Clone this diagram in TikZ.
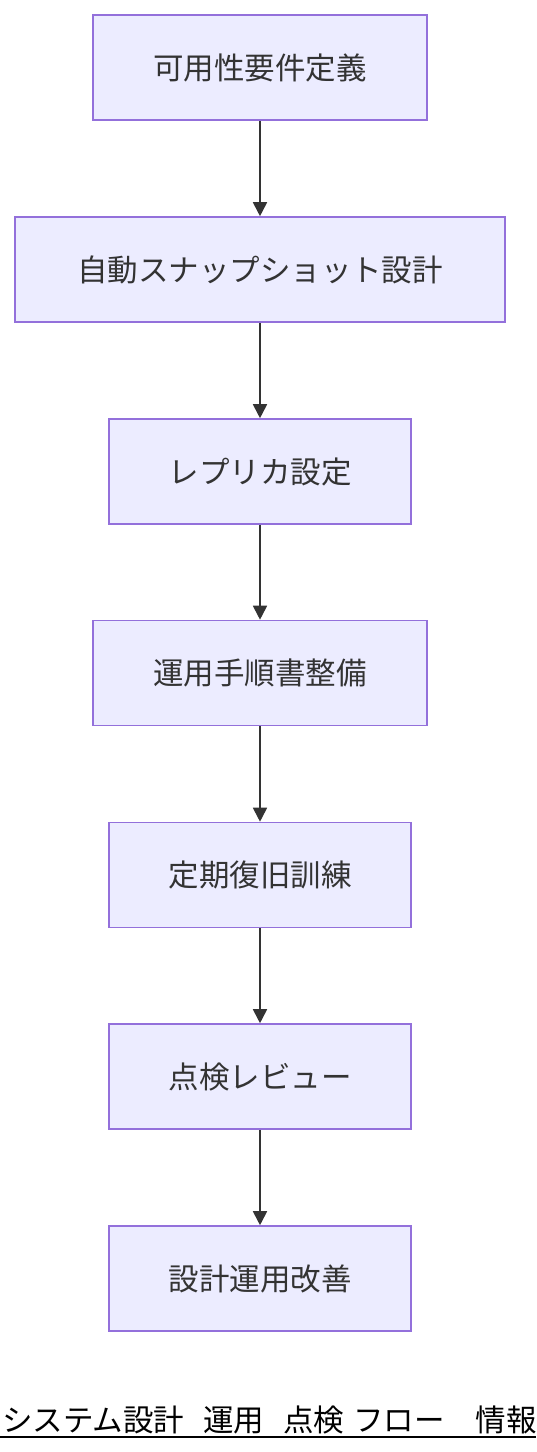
\documentclass[tikz,border=0pt]{standalone}
\usepackage{fontspec}
\setmainfont{Noto Sans CJK JP}
\usetikzlibrary{arrows.meta}
\definecolor{boxfill}{HTML}{ECECFF}
\definecolor{boxline}{HTML}{9370DB}
\definecolor{ink}{HTML}{333333}
\begin{document}
\begin{tikzpicture}[x=1pt,y=-1pt,
  stepbox/.style={draw=boxline,fill=boxfill,line width=1.6pt,inner sep=0pt,
    minimum height=105pt,text=ink,font=\fontsize{30.5}{33}\selectfont},
  flow/.style={draw=ink,line width=1.8pt,-{Triangle[length=14pt,width=14pt]}}]
\useasboundingbox (0,0) rectangle (536,1452);
\clip (0,0) rectangle (536,1452);
\node[stepbox,minimum width=334pt] (n1) at (260,67.5) {可用性要件定義};
\node[stepbox,minimum width=490pt] (n2) at (260,269.5) {自動スナップショット設計};
\node[stepbox,minimum width=302pt] (n3) at (260,471.5) {レプリカ設定};
\node[stepbox,minimum width=334pt] (n4) at (260,673) {運用手順書整備};
\node[stepbox,minimum width=302pt] (n5) at (260,875) {定期復旧訓練};
\node[stepbox,minimum width=302pt] (n6) at (260,1076.5) {点検レビュー};
\node[stepbox,minimum width=302pt] (n7) at (260,1278.5) {設計運用改善};
\foreach \a/\b in {n1/n2,n2/n3,n3/n4,n4/n5,n5/n6,n6/n7}
  \draw[flow] (\a.south) -- (\b.north);
\node[anchor=base west,inner sep=0pt,text=black,font=\fontsize{30.5}{33}\selectfont] (title) at (2,1431)
  {システム設計\hspace{19pt}運用\hspace{19pt}点検\hspace{9pt}フロー\hspace{31pt}情報};
\coordinate (ulL) at (0,1437);
\coordinate (ulR) at (536,1437);
\draw[black,line width=2pt] (ulL) -- (ulR);
\end{tikzpicture}
\end{document}
